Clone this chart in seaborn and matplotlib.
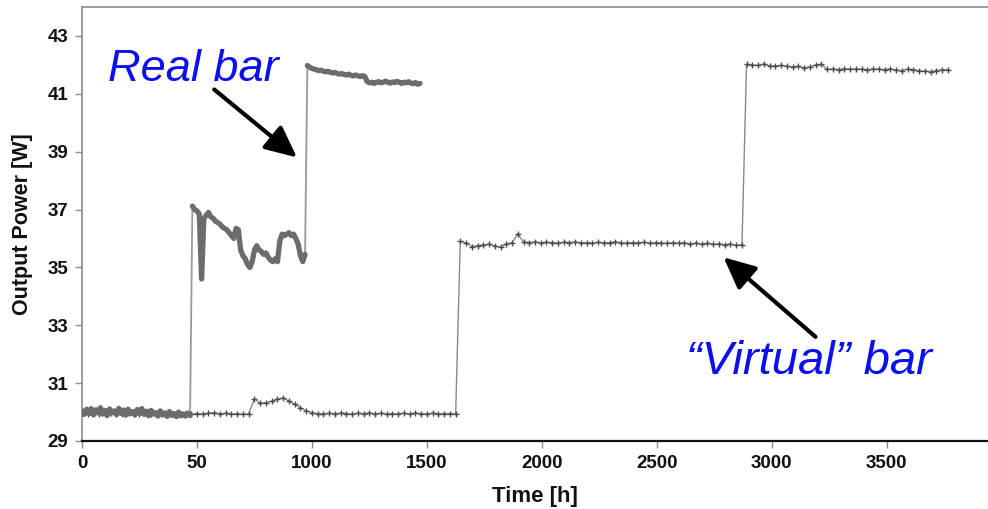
import numpy as np
import pandas as pd
import matplotlib
matplotlib.use("Agg")
import matplotlib.pyplot as plt
import seaborn as sns

# ---------------- data ----------------
real_t_a = np.arange(0, 471, 10)
real_p_a = [30.05, 29.92, 30.10, 29.95, 30.12, 29.90, 30.08, 29.97, 30.15, 29.93,
            30.06, 29.88, 30.11, 29.98, 30.04, 29.91, 30.13, 29.96, 30.07, 29.89,
            30.10, 29.94, 30.02, 29.90, 30.09, 29.95, 30.12, 29.92, 30.03, 29.87,
            30.06, 29.93, 29.98, 29.86, 30.04, 29.90, 29.97, 29.85, 30.02, 29.88,
            29.95, 29.84, 30.00, 29.87, 29.94, 29.86, 29.97, 29.88]
real_t_b = np.arange(480, 971, 10)
real_p_b = [37.12, 37.00, 36.95, 36.85, 34.60, 36.70, 36.80, 36.90, 36.75, 36.70,
            36.60, 36.55, 36.50, 36.40, 36.35, 36.30, 36.20, 36.10, 36.00, 36.35,
            36.30, 35.60, 35.40, 35.30, 35.10, 35.00, 35.20, 35.60, 35.75, 35.60,
            35.55, 35.45, 35.50, 35.35, 35.25, 35.20, 35.30, 35.20, 35.90, 36.15,
            36.10, 36.15, 36.20, 36.10, 36.15, 36.00, 35.80, 35.40, 35.20, 35.45]
real_t_c = np.arange(980, 1471, 10)
real_p_c = [41.98, 41.92, 41.88, 41.85, 41.83, 41.80, 41.82, 41.78, 41.76, 41.78,
            41.74, 41.72, 41.74, 41.70, 41.68, 41.70, 41.67, 41.65, 41.68, 41.64,
            41.62, 41.65, 41.62, 41.60, 41.63, 41.60, 41.42, 41.38, 41.40, 41.36,
            41.40, 41.42, 41.38, 41.40, 41.44, 41.40, 41.37, 41.41, 41.39, 41.43,
            41.40, 41.36, 41.40, 41.38, 41.42, 41.37, 41.35, 41.39, 41.33, 41.36]

virt_t_a = np.arange(0, 1626, 25)
virt_p_a = [29.96, 29.94, 29.97, 29.95, 29.93, 29.96, 29.95, 29.94, 29.97, 29.95,
            29.93, 29.96, 29.94, 29.95, 29.93, 29.96, 29.94, 29.92, 29.95, 29.93,
            29.95, 29.93, 29.96, 29.98, 29.94, 29.96, 29.93, 29.95, 29.92, 29.94,
            30.46, 30.30, 30.33, 30.38, 30.44, 30.49, 30.38, 30.27, 30.15, 30.05, 29.98,
            29.95, 29.93, 29.96, 29.94, 29.97, 29.95, 29.93, 29.96, 29.95, 29.97,
            29.94, 29.96, 29.93, 29.95, 29.94, 29.96, 29.93, 29.97, 29.95, 29.94,
            29.96, 29.94, 29.95, 29.95, 29.95]
virt_t_b = np.arange(1645, 2871, 25)
virt_p_b = [35.90, 35.85, 35.72, 35.75, 35.78, 35.80, 35.74, 35.70, 35.82, 35.85,
            36.15, 35.88, 35.86, 35.88, 35.85, 35.87, 35.86, 35.84, 35.87, 35.86,
            35.88, 35.85, 35.86, 35.84, 35.87, 35.85, 35.86, 35.88, 35.85, 35.84,
            35.86, 35.85, 35.87, 35.84, 35.86, 35.85, 35.83, 35.86, 35.84, 35.85,
            35.82, 35.84, 35.81, 35.83, 35.80, 35.82, 35.78, 35.81, 35.76, 35.79]
virt_t_c = np.arange(2890, 3766, 25)
virt_p_c = [42.02, 42.00, 41.98, 42.03, 41.97, 41.96, 41.98, 41.95, 41.93, 41.95,
            41.90, 41.93, 42.00, 42.02, 41.85, 41.86, 41.84, 41.87, 41.85, 41.86,
            41.85, 41.83, 41.86, 41.85, 41.84, 41.86, 41.83, 41.80, 41.86, 41.84,
            41.80, 41.78, 41.77, 41.80, 41.83, 41.84]

x_ticks = [0, 500, 1000, 1500, 2000, 2500, 3000, 3500]
x_tick_labels = ["0", "50", "1000", "1500", "2000", "2500", "3000", "3500"]
y_ticks = [29, 31, 33, 35, 37, 39, 41, 43]

# ---------------- tables ----------------
real = pd.DataFrame({
    "t": np.concatenate([real_t_a, real_t_b, real_t_c]),
    "p": real_p_a + real_p_b + real_p_c,
    "seg": ["a"] * len(real_p_a) + ["b"] * len(real_p_b) + ["c"] * len(real_p_c),
})
virt = pd.DataFrame({
    "t": np.concatenate([virt_t_a, virt_t_b, virt_t_c]),
    "p": virt_p_a + virt_p_b + virt_p_c,
})

# ---------------- plot ----------------
sns.set_theme(style="white")
plt.rcParams["font.family"] = ["Liberation Sans", "DejaVu Sans"]

fig = plt.figure(figsize=(9.88, 5.09), dpi=100)
ax = fig.add_axes([0.083, 0.1336, 0.917, 0.8526])

# virtual bar: thin line with small markers
sns.lineplot(data=virt, x="t", y="p", ax=ax, color="#8a8a8a", linewidth=1.0,
             estimator=None, sort=False, zorder=2)
ax.plot(virt["t"], virt["p"], linestyle="none", marker="+", markersize=4,
        markeredgewidth=1.0, color="#4a4a4a", zorder=3)

# real bar: thin connectors + thick noisy segments
sns.lineplot(data=real, x="t", y="p", ax=ax, color="#9a9a9a", linewidth=1.3,
             estimator=None, sort=False, zorder=4)
sns.lineplot(data=real, x="t", y="p", units="seg", ax=ax, color="#6c6c6c",
             linewidth=3.8, estimator=None, sort=False, zorder=5)

ax.set_xlim(0, 3940)
ax.set_ylim(29, 44)
ax.set_xticks(x_ticks)
ax.set_xticklabels(x_tick_labels)
ax.set_yticks(y_ticks)

for s in ["left", "top"]:
    ax.spines[s].set_color("#8c8c8c")
    ax.spines[s].set_linewidth(1.2)
ax.spines["right"].set_visible(False)
ax.spines["bottom"].set_color("#111111")
ax.spines["bottom"].set_linewidth(1.6)

ax.tick_params(axis="both", which="major", direction="out", length=5,
               width=1, color="#8c8c8c", labelsize=13.5, labelcolor="#111111",
               left=True, bottom=True, pad=5)
for lab in ax.get_xticklabels() + ax.get_yticklabels():
    lab.set_fontweight("bold")

ax.set_xlabel("Time [h]", fontsize=16, fontweight="bold", color="#111111", labelpad=10)
ax.set_ylabel("Output Power [W]", fontsize=15.5, fontweight="bold", color="#111111", labelpad=10)

# annotations
arrow_kw = dict(arrowstyle="-|>,head_length=1.6,head_width=0.75",
                color="black", lw=3, shrinkA=0, shrinkB=0)
ax.text(115, 41.45, "Real bar", color="#0a10f0", fontsize=32.5, fontstyle="italic",
        ha="left", va="baseline")
ax.annotate("", xy=(935, 38.8), xytext=(575, 41.15), arrowprops=arrow_kw)

ax.text(2625, 31.3, "\u201cVirtual\u201d bar", color="#0a10f0", fontsize=34,
        fontstyle="italic", ha="left", va="baseline")
ax.annotate("", xy=(2790, 35.35), xytext=(3190, 32.6), arrowprops=arrow_kw)

fig.savefig("out.png", dpi=100)
